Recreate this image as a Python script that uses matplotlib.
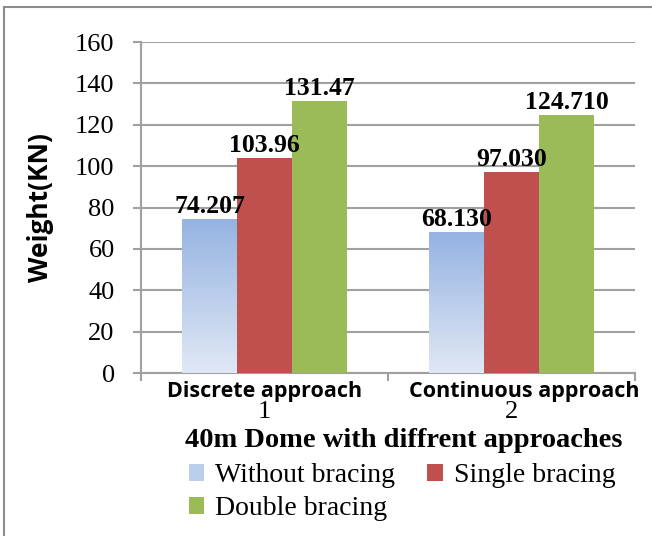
import numpy as np
import matplotlib.pyplot as plt
from matplotlib.lines import Line2D
from matplotlib.patches import Patch

# Dome weights for each approach and bracing type
approaches = ['Discrete approach', 'Continuous approach']
tick_nums = ['1', '2']
series = ['Without bracing', 'Single bracing', 'Double bracing']
without_bracing = [74.207, 68.130]
single_bracing = [103.96, 97.030]
double_bracing = [131.47, 124.710]
value_labels = [['74.207', '68.130'], ['103.96', '97.030'], ['131.47', '124.710']]

red = '#C0504D'
green = '#9BBB59'
blue_top = np.array([149, 179, 226]) / 255
blue_bot = np.array([224, 232, 245]) / 255
grid_c = '#A0A0A0'
serif = 'Liberation Serif'
sans = 'Open Sans'

fig = plt.figure(figsize=(6.52, 5.36), dpi=100)
ax = fig.add_axes([0.2163, 0.3041, 0.7577, 0.6175])

x = np.arange(1, 3)
w = 1 / 4.5
data = [without_bracing, single_bracing, double_bracing]

for i, vals in enumerate(data):
    xs = x + (i - 1) * w
    if i == 0:
        bars = ax.bar(xs, vals, w, color='none', edgecolor='none', zorder=3)
        # vertical gradient inside each blue bar
        grad = np.linspace(0, 1, 256)[:, None]
        img = blue_bot[None, None, :] * (1 - grad[..., None]) + blue_top[None, None, :] * grad[..., None]
        for b in bars:
            im = ax.imshow(img, extent=[b.get_x(), b.get_x() + w, 0, b.get_height()],
                           origin='lower', aspect='auto', zorder=3, interpolation='bilinear')
            im.set_clip_path(b)
    else:
        ax.bar(xs, vals, w, color=[red, green][i - 1], edgecolor='none', zorder=3)
    for xx, v, lab in zip(xs, vals, value_labels[i]):
        ax.annotate(lab, (xx, v), xytext=(0, 1), textcoords='offset points',
                    ha='center', va='bottom', fontsize=18.5, fontweight='bold',
                    family=serif, zorder=5)

ax.set_xlim(0.5, 2.5)
ax.set_ylim(0, 160)
ax.set_yticks(np.arange(0, 161, 20))
ax.yaxis.grid(True, color=grid_c, lw=1.5, zorder=0)
ax.set_axisbelow(True)

ax.set_xticks(x)
ax.set_xticklabels(tick_nums, family=serif, fontsize=19)
ax.set_xticks([0.5, 1.5, 2.5], minor=True)
ax.tick_params(axis='x', which='major', length=0, pad=20)
ax.tick_params(axis='x', which='minor', length=6, width=1.5, color=grid_c, direction='out')
ax.tick_params(axis='y', length=6, width=1.5, color=grid_c, direction='out', pad=13)
for t in ax.get_yticklabels():
    t.set_family(serif)
    t.set_fontsize(19)

for s in ['top', 'right']:
    ax.spines[s].set_visible(False)
for s in ['left', 'bottom']:
    ax.spines[s].set_color(grid_c)
    ax.spines[s].set_linewidth(1.5)

# category names above the numeric ticks
for xx, name, dx in zip(x, approaches, [0, 9]):
    ax.annotate(name, (xx, 0), xytext=(dx, -6), textcoords='offset points',
                ha='center', va='top', fontsize=15.5, fontweight='bold', family=sans)

ax.set_ylabel('Weight(KN)', family=sans, fontsize=19, fontweight='bold')
ax.yaxis.set_label_coords(-0.177, 0.5)

fig.text(0.62, 0.179, '40m Dome with diffrent approaches', ha='center', va='center',
         family=serif, fontsize=20.5, fontweight='bold')

# legend filled column-wise, so order gives rows: Without/Single, Double
handles = [Patch(facecolor=(blue_top + blue_bot) / 2, edgecolor='none'),
           Patch(facecolor=green, edgecolor='none'),
           Patch(facecolor=red, edgecolor='none')]
labels = [series[0], series[2], series[1]]
fig.legend(handles, labels, loc='upper left', bbox_to_anchor=(0.29, 0.136), ncol=2,
           frameon=False, prop={'family': serif, 'size': 20},
           handlelength=0.55, handleheight=0.55, handletextpad=0.4,
           columnspacing=1.15, labelspacing=0.3, borderpad=0, borderaxespad=0)

# chart frame lines at top and left
fig.add_artist(Line2D([0.006, 1], [0.987, 0.987], color='#8C8C8C', lw=1.5))
fig.add_artist(Line2D([0.006, 0.006], [0, 0.987], color='#8C8C8C', lw=1.5))

fig.savefig('out.png', dpi=100)
